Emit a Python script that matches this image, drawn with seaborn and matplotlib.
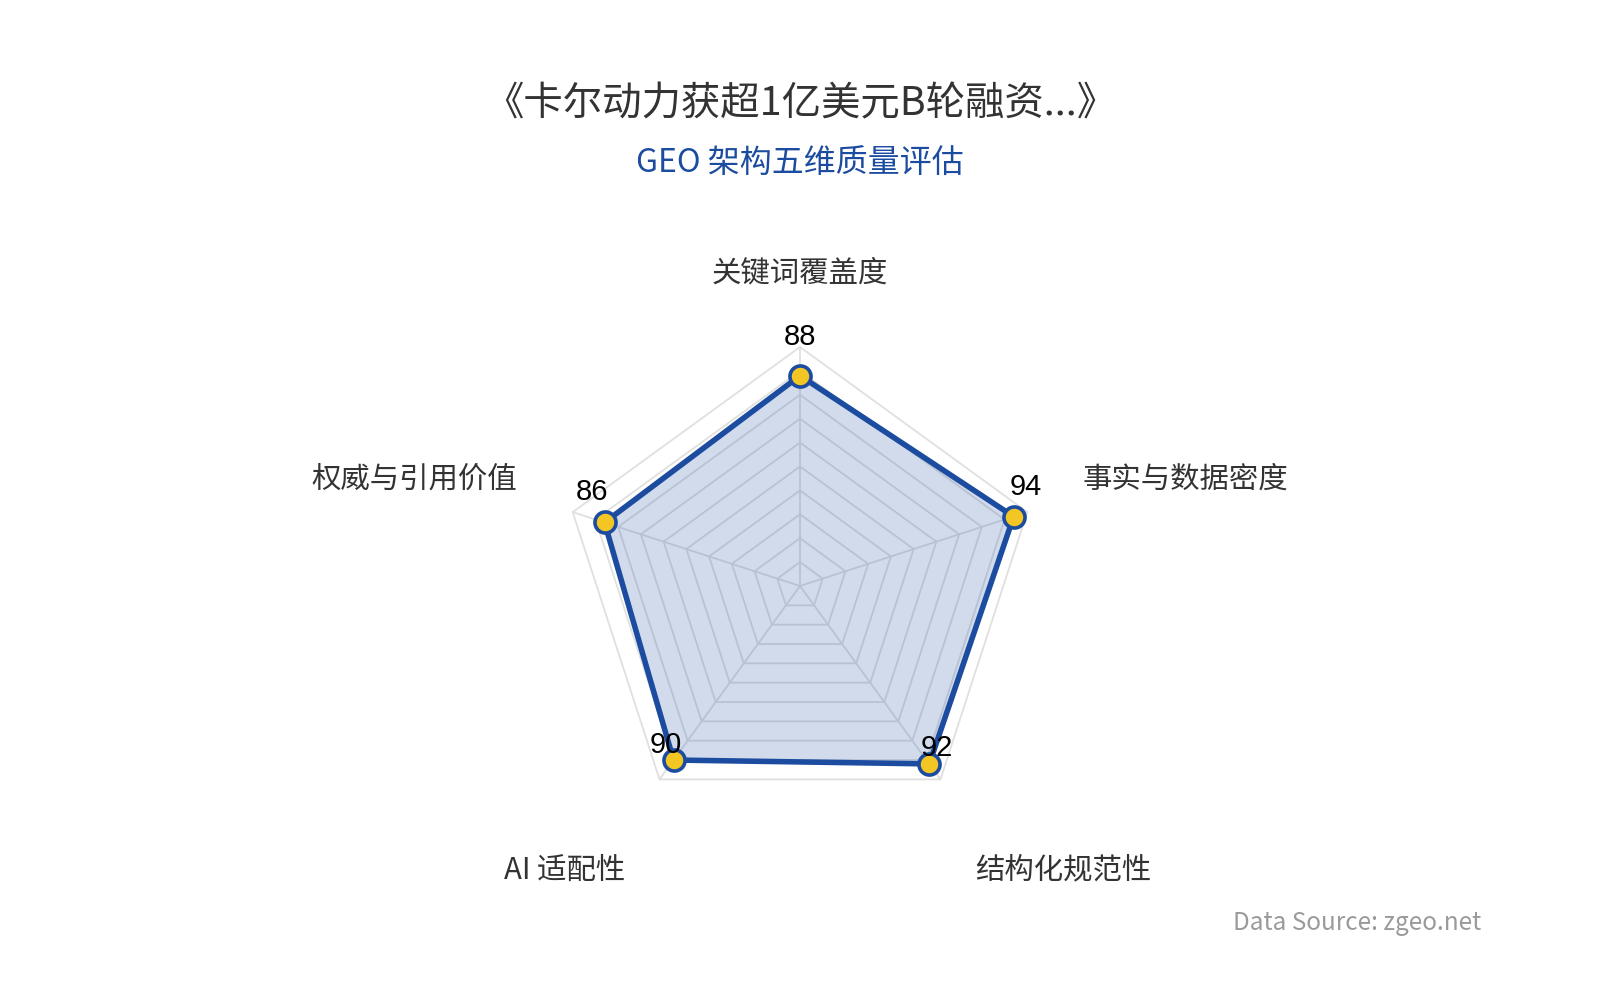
import numpy as np
import pandas as pd
import seaborn as sns
import matplotlib.pyplot as plt

# radar data, clockwise from the top axis
dimensions = ['关键词覆盖度', '事实与数据密度', '结构化规范性', 'AI 适配性', '权威与引用价值']
scores = [88, 94, 92, 90, 86]
ring_levels = [10, 20, 30, 40, 50, 60, 70, 80, 90, 100]

title = '《卡尔动力获超1亿美元B轮融资...》'
subtitle = 'GEO 架构五维质量评估'
source = 'Data Source: zgeo.net'

BLUE = '#1c4ca0'
YELLOW = '#f3c623'
GRID = '#e0e0e0'
TEXT = '#333333'

sns.set_theme(style='white')
plt.rcParams['font.family'] = ['Noto Sans CJK SC', 'DejaVu Sans']

# one data unit = 2.39 px, centre of radar at (800, 586) px
px = 2.39
fig = plt.figure(figsize=(16, 10), dpi=100, facecolor='white')
ax = fig.add_axes([0, 0, 1, 1])
ax.set_xlim(-800 / px, 800 / px)
ax.set_ylim(-414 / px, 586 / px)
ax.axis('off')

n = len(dimensions)
angles = np.arange(n) * 2 * np.pi / n
ux, uy = np.sin(angles), np.cos(angles)

# grid rings + spokes
for lvl in ring_levels:
    ax.plot(np.append(ux, ux[0]) * lvl, np.append(uy, uy[0]) * lvl,
            color=GRID, lw=1.3, zorder=1)
for x, y in zip(ux, uy):
    ax.plot([0, x * 100], [0, y * 100], color=GRID, lw=1.3, zorder=1)

df = pd.DataFrame({'dim': dimensions, 'score': scores})
df['x'] = ux * df['score']
df['y'] = uy * df['score']
closed = pd.concat([df, df.iloc[:1]], ignore_index=True)

ax.fill(df['x'], df['y'], color=BLUE, alpha=0.2, lw=0, zorder=2)
sns.lineplot(data=closed, x='x', y='y', sort=False, estimator=None,
             color=BLUE, lw=4, ax=ax, zorder=3)
sns.scatterplot(data=df, x='x', y='y', s=230, color=YELLOW, edgecolor=BLUE,
                linewidth=2.6, ax=ax, zorder=4, legend=False)

# value labels: pushed a little outward along the spoke and up
for (_, row), x, y in zip(df.iterrows(), ux, uy):
    ax.annotate(str(row['score']), (row['x'], row['y']),
                xytext=(13 * x, 13 * y + 26), textcoords='offset pixels',
                ha='center', va='center', fontsize=21, color='black',
                family=['Liberation Sans', 'DejaVu Sans'], zorder=5)

# axis names
r_name = 124.3
for name, x, y in zip(dimensions, ux, uy):
    ha = 'center' if abs(x) < 0.01 else ('left' if x > 0 else 'right')
    va = 'bottom' if y > 0 else 'top'
    dy = 0 if y > 0 else -28
    ax.annotate(name, (x * r_name, y * r_name), xytext=(0, dy),
                textcoords='offset pixels', ha=ha, va=va,
                fontsize=21.2, color=TEXT)

ax.set_xlabel('')
ax.set_ylabel('')

fig.text(0.5, 1 - 104 / 1000, title, ha='center', va='center',
         fontsize=28.4, color=TEXT)
fig.text(0.5, 1 - 163 / 1000, subtitle, ha='center', va='center',
         fontsize=23, color=BLUE)
fig.text(1481 / 1600, 1 - 923 / 1000, source, ha='right', va='center',
         fontsize=17.5, color='#9a9a9a')

fig.savefig('out.png', dpi=100, facecolor='white')
